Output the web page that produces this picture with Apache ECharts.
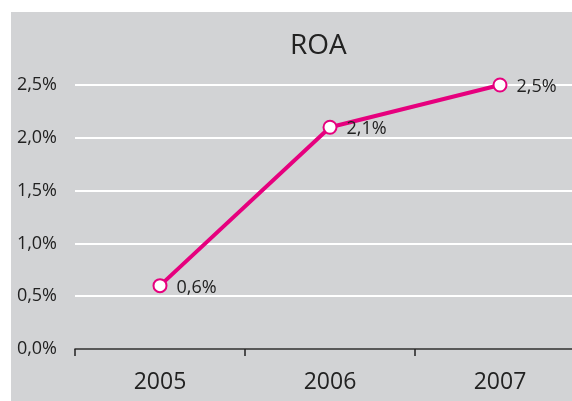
<!DOCTYPE html>
<html>
<head>
<meta charset="utf-8">
<script src="https://cdn.jsdelivr.net/npm/echarts@6/dist/echarts.min.js"></script>
<style>
  html, body { margin: 0; padding: 0; background: #ffffff; overflow: hidden; }
  #chart { width: 585px; height: 401px; }
</style>
</head>
<body>
<div id="chart"></div>
<script>
// ROA line chart
var years = ['2005', '2006', '2007'];
var roa = [0.6, 2.1, 2.5];
var yTicks = [0, 0.5, 1.0, 1.5, 2.0, 2.5];

function pct(v) {
  return v.toFixed(1).replace('.', ',') + '%';
}

var chart = echarts.init(document.getElementById('chart'));

var option = {
  backgroundColor: '#ffffff',
  animation: false,
  textStyle: { fontFamily: 'Open Sans' },
  graphic: [{
    type: 'rect',
    z: -10,
    shape: { x: 11, y: 12, width: 600, height: 400 },
    style: { fill: '#d2d3d5' }
  }],
  title: {
    text: 'ROA',
    left: 285,
    top: 27,
    textStyle: { fontSize: 28, fontWeight: 'normal', color: '#222', fontFamily: 'Open Sans' }
  },
  grid: { left: 75, right: 0, top: 85, bottom: 52 },
  xAxis: {
    type: 'category',
    data: years,
    boundaryGap: true,
    axisLine: { lineStyle: { color: '#222', width: 1.5 } },
    axisTick: { show: true, inside: false, length: 7, lineStyle: { color: '#222', width: 1.5 } },
    axisLabel: { fontSize: 23, color: '#222', margin: 22 },
    splitLine: { show: false }
  },
  yAxis: {
    type: 'value',
    min: yTicks[0],
    max: yTicks[yTicks.length - 1],
    interval: 0.5,
    axisLine: { show: false },
    axisTick: { show: false },
    axisLabel: { fontSize: 18, color: '#222', margin: 18, formatter: pct },
    splitLine: { lineStyle: { color: '#ffffff', width: 2 } }
  },
  series: [{
    type: 'line',
    data: roa,
    symbol: 'circle',
    symbolSize: 13,
    lineStyle: { color: '#e6007e', width: 4 },
    itemStyle: { color: '#ffffff', borderColor: '#e6007e', borderWidth: 2 },
    label: {
      show: true,
      position: 'right',
      distance: 9,
      offset: [0, 2],
      fontSize: 18,
      color: '#222',
      formatter: function (p) { return pct(p.value); }
    }
  }]
};

chart.setOption(option);
</script>
</body>
</html>
